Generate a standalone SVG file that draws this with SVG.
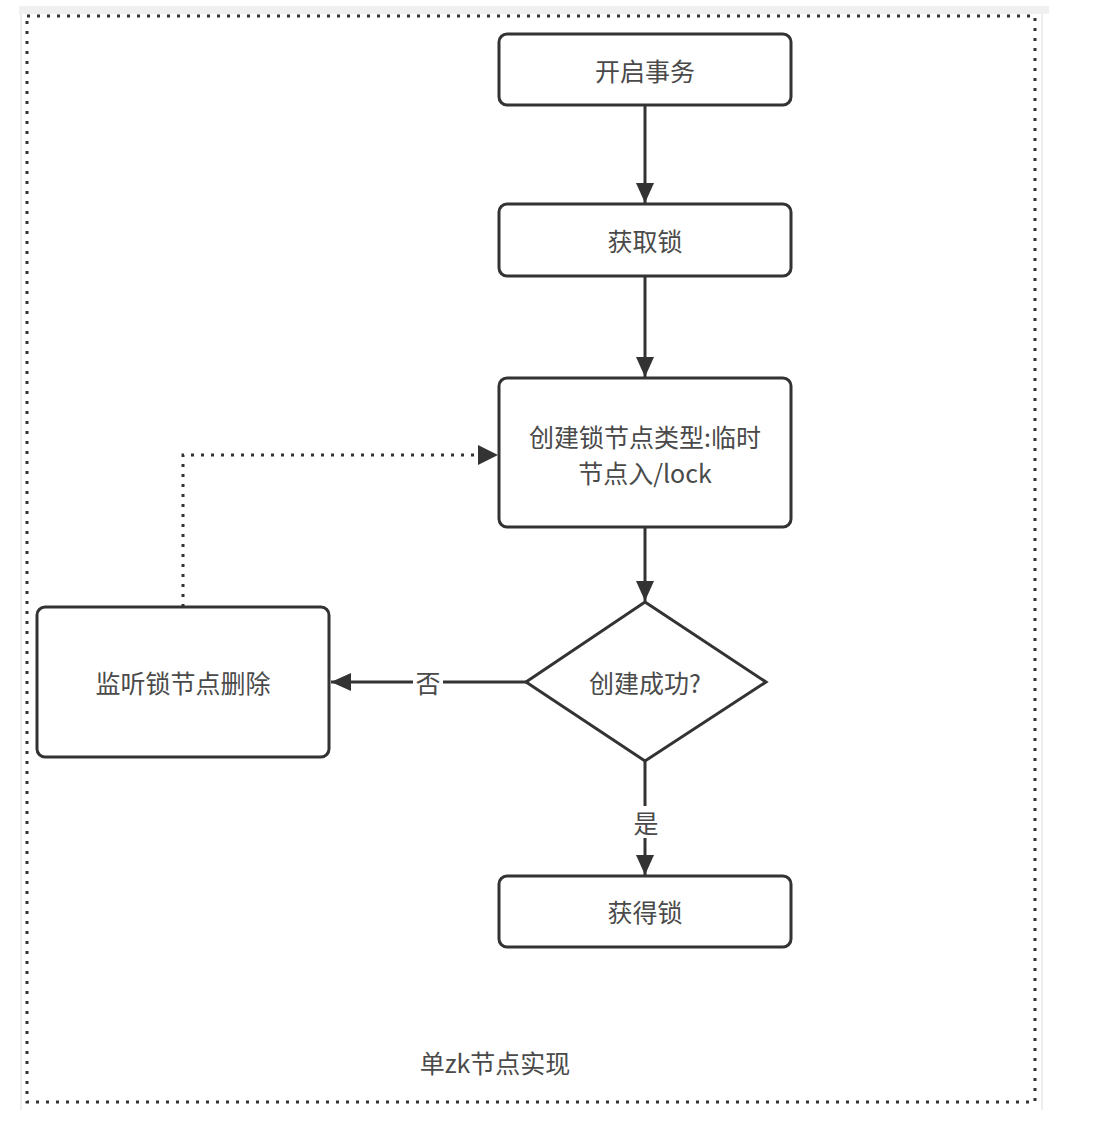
<svg xmlns="http://www.w3.org/2000/svg" width="1096" height="1136" viewBox="0 0 1096 1136">
<style>
.box{fill:#fff;stroke:#333;stroke-width:3}
.t{font-family:"Noto Sans CJK SC","Liberation Sans",sans-serif;font-size:25px;fill:#4a4a4a;text-anchor:middle;dominant-baseline:central}
.ln{fill:none;stroke:#333;stroke-width:3}
.dot{fill:none;stroke:#333;stroke-width:3;stroke-dasharray:3 7}
</style>
<defs>
<marker id="arr" viewBox="0 0 20 20" refX="20" refY="10" markerWidth="20" markerHeight="20" markerUnits="userSpaceOnUse" orient="auto">
<path d="M0,1 L20,10 L0,19 Z" fill="#333"/>
</marker>
</defs>
<rect x="0" y="0" width="1096" height="1136" fill="#fff"/>
<g id="frame">
<rect x="19" y="6" width="1030" height="8" fill="#f0f0f0"/>
<line x1="21" y1="14" x2="21" y2="1110" stroke="#eee" stroke-width="2"/>
<line x1="1042" y1="14" x2="1042" y2="1110" stroke="#eee" stroke-width="2"/>
<rect x="27" y="16" width="1008" height="1086" class="dot"/>
<text class="t" x="495" y="1062">单zk节点实现</text>
</g>
<g id="connectors">
<line class="ln" x1="645" y1="105" x2="645" y2="203" marker-end="url(#arr)"/>
<line class="ln" x1="645" y1="276" x2="645" y2="377" marker-end="url(#arr)"/>
<line class="ln" x1="645" y1="527" x2="645" y2="601" marker-end="url(#arr)"/>
<line class="ln" x1="526" y1="682" x2="331" y2="682" marker-end="url(#arr)"/>
<line class="ln" x1="645" y1="761" x2="645" y2="875" marker-end="url(#arr)"/>
<polyline class="dot" points="183,607 183,455 478,455"/>
<path d="M478,445 L498,455 L478,465 Z" fill="#333"/>
<rect x="413" y="668" width="30" height="28" fill="#fff"/>
<text class="t" x="428" y="682">否</text>
<rect x="631" y="806" width="30" height="32" fill="#fff"/>
<text class="t" x="646" y="822">是</text>
</g>
<g id="n1">
<rect class="box" x="499" y="34" width="292" height="71" rx="8"/>
<text class="t" x="645" y="70">开启事务</text>
</g>
<g id="n2">
<rect class="box" x="499" y="204" width="292" height="72" rx="8"/>
<text class="t" x="645" y="240">获取锁</text>
</g>
<g id="n3">
<rect class="box" x="499" y="378" width="292" height="149" rx="8"/>
<text class="t" x="645" y="436">创建锁节点类型:临时</text>
<text class="t" x="645" y="472">节点入/lock</text>
</g>
<g id="n4">
<polygon class="box" points="645,602 766,682 645,761 526,682"/>
<text class="t" x="645" y="682">创建成功?</text>
</g>
<g id="n5">
<rect class="box" x="37" y="607" width="292" height="150" rx="8"/>
<text class="t" x="183" y="682">监听锁节点删除</text>
</g>
<g id="n6">
<rect class="box" x="499" y="876" width="292" height="71" rx="8"/>
<text class="t" x="645" y="911">获得锁</text>
</g>
</svg>
